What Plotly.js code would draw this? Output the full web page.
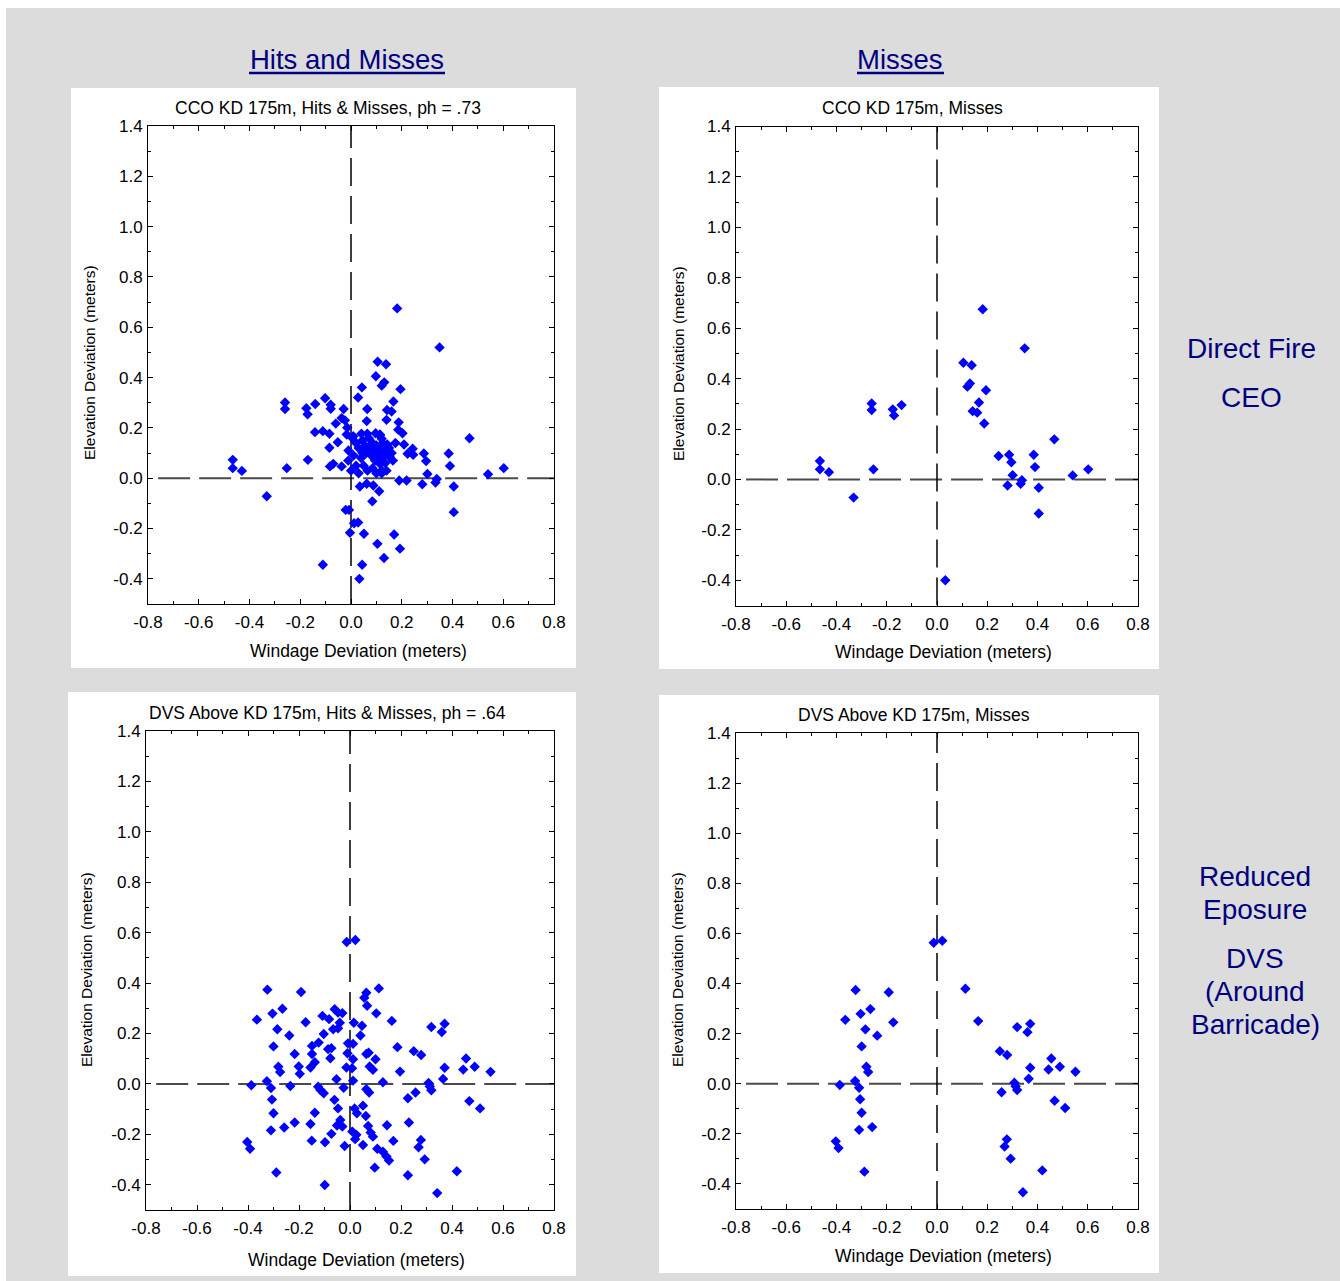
<!DOCTYPE html>
<html><head><meta charset="utf-8">
<script src="https://cdn.plot.ly/plotly-3.0.1.min.js"></script>
<style>html,body{margin:0;padding:0;background:#fff;}</style>
</head><body><div id="chart" style="width:1340px;height:1281px;"></div>
<script>
// ---------- DATA ----------
// CCO misses (shown in both CCO panels)
const ccoMissX = [0.182,0.349,0.105,0.138,0.131,0.121,0.195,0.167,0.142,0.160,0.188,0.467,0.245,0.287,0.296,0.385,0.390,0.301,0.338,0.333,0.281,0.405,0.405,0.540,0.602,0.033,-0.260,-0.260,-0.176,-0.171,-0.141,-0.466,-0.466,-0.430,-0.253,-0.332];
const ccoMissY = [0.675,0.520,0.463,0.453,0.381,0.368,0.354,0.305,0.271,0.265,0.222,0.159,0.093,0.098,0.068,0.098,0.049,0.017,-0.003,-0.017,-0.024,-0.033,-0.135,0.016,0.040,-0.400,0.301,0.275,0.278,0.254,0.295,0.073,0.040,0.029,0.040,-0.072];
// CCO hits
const ccoHitX = [0.098,0.043,0.028,-0.102,-0.080,-0.080,-0.029,0.064,0.062,0.140,-0.037,-0.024,-0.060,-0.015,-0.142,-0.111,-0.085,-0.017,0.009,0.041,0.064,0.097,0.114,
  -0.052,-0.085,-0.170,-0.083,-0.070,-0.037,-0.011,
  0.035,0.062,0.088,0.111,0.121,0.084,-0.021,-0.008,0.012,0.028,-0.004,0.051,0.104,0.170,0.130,-0.111,0.044,0.193,
  0.186,0.203,0.114,0.121,0.143,0.209,0.243,0.223,0.190,0.219,0.114,0.121,0.153,0.140,
  0.005,0.020,0.030,0.045,0.055,0.060,0.070,0.075,0.080,0.085,0.090,0.095,0.100,0.105,0.110,0.120,0.125,0.130,0.135,0.150,0.160,0.165,0.175,0.040,0.050,0.065,0.020,0.010,0.030,0.085,0.100,0.140,-0.010,0.000,0.045];
const ccoHitY = [0.405,0.361,0.321,0.318,0.292,0.276,0.275,0.275,0.227,0.232,0.239,0.230,0.217,0.201,0.183,0.187,0.177,0.174,0.167,0.177,0.177,0.179,0.174,
  0.143,0.121,0.073,0.047,0.057,0.047,0.070,
  -0.033,-0.022,-0.029,-0.052,0.020,-0.092,-0.126,-0.126,-0.179,-0.176,-0.217,-0.221,-0.261,-0.224,-0.317,-0.344,-0.344,-0.280,
  0.193,0.179,0.170,0.157,0.134,0.134,0.117,0.097,-0.009,-0.009,0.057,0.031,0.084,0.097,
  0.160,0.140,0.120,0.150,0.130,0.100,0.160,0.120,0.090,0.140,0.110,0.070,0.130,0.100,0.120,0.080,0.140,0.110,0.060,0.120,0.100,0.070,0.140,0.080,0.050,0.030,0.050,0.090,0.020,0.040,0.020,0.030,0.110,0.030,0.100];
// DVS misses
const dvsMissX = [-0.013,0.021,-0.324,-0.192,0.113,-0.265,-0.304,-0.365,-0.174,-0.285,-0.238,0.164,0.319,0.371,0.360,-0.300,0.250,0.279,0.455,0.489,0.444,0.551,0.371,0.365,-0.281,-0.274,-0.326,-0.387,-0.310,0.308,0.319,0.257,0.313,0.468,0.510,-0.306,-0.300,-0.310,-0.258,-0.403,-0.392,-0.289,0.278,0.269,0.293,0.419,0.342];
const dvsMissY = [0.563,0.571,0.374,0.365,0.379,0.298,0.279,0.255,0.245,0.217,0.192,0.250,0.226,0.239,0.206,0.149,0.130,0.115,0.101,0.068,0.057,0.048,0.064,0.020,0.068,0.047,0.011,-0.005,-0.016,0.004,-0.025,-0.034,-0.010,-0.068,-0.097,-0.062,-0.116,-0.184,-0.173,-0.230,-0.257,-0.351,-0.222,-0.251,-0.299,-0.346,-0.433];
// DVS hits
const dvsHitX = [0.064,0.056,0.067,0.103,-0.060,-0.047,-0.030,-0.108,-0.082,-0.040,-0.047,-0.066,0.015,0.047,-0.103,0.041,-0.123,-0.149,-0.008,0.012,-0.086,-0.073,-0.077,-0.217,-0.149,-0.010,0.012,0.064,0.073,0.100,-0.138,-0.201,-0.197,-0.155,-0.014,0.008,0.077,0.090,-0.053,
  -0.234,-0.125,-0.116,-0.103,-0.025,0.012,0.064,0.075,-0.061,-0.047,-0.138,0.051,0.018,0.027,0.062,-0.217,-0.155,-0.038,-0.030,-0.051,-0.073,0.009,0.025,0.020,0.071,0.081,0.090,-0.150,-0.098,-0.021,0.051,-0.099,0.097,0.107,
  0.186,0.196,0.129,0.227,0.145,0.231,0.170,0.129,0.143,0.153,0.227];
const dvsHitY = [0.362,0.342,0.310,0.280,0.296,0.283,0.281,0.270,0.257,0.243,0.221,0.217,0.243,0.231,0.198,0.192,0.164,0.151,0.161,0.159,0.138,0.142,0.102,0.119,0.119,0.122,0.098,0.119,0.124,0.098,0.086,0.069,0.040,0.065,0.065,0.062,0.069,0.056,0.019,
  -0.008,-0.011,-0.024,-0.037,-0.015,0.013,-0.021,-0.034,-0.063,-0.097,-0.114,-0.086,-0.097,-0.116,-0.127,-0.153,-0.159,-0.143,-0.169,-0.165,-0.198,-0.189,-0.202,-0.219,-0.167,-0.193,-0.209,-0.225,-0.231,-0.246,-0.242,-0.401,-0.332,-0.257,
  0.146,0.049,0.007,-0.057,-0.164,-0.153,-0.226,-0.269,-0.288,-0.304,-0.362];

const xTickVals = [-0.8,-0.6,-0.4,-0.2,0.0,0.2,0.4,0.6,0.8];
const xTickText = ['-0.8','-0.6','-0.4','-0.2','0.0','0.2','0.4','0.6','0.8'];
const yTickVals = [-0.4,-0.2,0.0,0.2,0.4,0.6,0.8,1.0,1.2,1.4];
const yTickText = ['-0.4','-0.2','0.0','0.2','0.4','0.6','0.8','1.0','1.2','1.4'];

const panelTitles = ['CCO KD 175m, Hits & Misses, ph = .73','CCO KD 175m, Misses','DVS Above KD 175m, Hits & Misses, ph = .64','DVS Above KD 175m, Misses'];
const xTitle = 'Windage Deviation (meters)';
const yTitle = 'Elevation Deviation (meters)';

// ---------- LAYOUT ----------
const W = 1340, H = 1281;
const fx = p => p / W;
const fy = p => 1 - p / H;
const AR = 'Liberation Sans, Arial, sans-serif';
const NAVY = '#00007f';

const panels = [
  {l:148, r:554, t:126, b:604, box:[71,88,576,668], tx:328, ty:108, xtx:358, xty:651, ytx:89, yty:363},
  {l:736, r:1138, t:126.5, b:605.5, box:[659,87,1159,669], tx:912, ty:108, xtx:944, xty:652, ytx:678, yty:363},
  {l:146, r:554, t:731, b:1210, box:[68,692,576,1276], tx:327, ty:713, xtx:356, xty:1260, ytx:87, yty:970},
  {l:736, r:1138, t:733, b:1209, box:[659,695,1159,1273], tx:914, ty:715, xtx:943, xty:1256, ytx:678, yty:969}
];

const seriesX = [ccoHitX.concat(ccoMissX), ccoMissX, dvsHitX.concat(dvsMissX), dvsMissX];
const seriesY = [ccoHitY.concat(ccoMissY), ccoMissY, dvsHitY.concat(dvsMissY), dvsMissY];

const data = [];
const layout = {
  width: W, height: H,
  margin: {l:0, r:0, t:0, b:0, pad:0},
  paper_bgcolor: '#dcdcdc',
  plot_bgcolor: '#ffffff',
  showlegend: false,
  shapes: [], annotations: []
};

// page white edges
layout.shapes.push({type:'rect', xref:'paper', yref:'paper', x0:0, x1:1, y0:fy(8), y1:1, fillcolor:'#ffffff', line:{width:0}, layer:'below'});
layout.shapes.push({type:'rect', xref:'paper', yref:'paper', x0:0, x1:fx(6), y0:0, y1:1, fillcolor:'#ffffff', line:{width:0}, layer:'below'});

panels.forEach((p, i) => {
  const n = i + 1;
  const xa = 'xaxis' + (n === 1 ? '' : n), ya = 'yaxis' + (n === 1 ? '' : n);
  const xr = 'x' + (n === 1 ? '' : n), yr = 'y' + (n === 1 ? '' : n);
  const common = {
    showline:true, linecolor:'#000', linewidth:1, mirror:'allticks',
    ticks:'inside', ticklen:5, tickcolor:'#000', tickwidth:1,
    showgrid:false, zeroline:false, fixedrange:true,
    tickfont:{family:AR, size:17, color:'#000'},
    tickmode:'array',
    minor:{tickmode:'linear', tick0:0, dtick:0.1, ticks:'inside', ticklen:3, tickcolor:'#000', showgrid:false}
  };
  layout[xa] = Object.assign({}, common, {domain:[fx(p.l), fx(p.r)], range:[-0.8,0.8], anchor:yr, tickvals:xTickVals, ticktext:xTickText, ticklabelstandoff:3});
  layout[ya] = Object.assign({}, common, {domain:[fy(p.b), fy(p.t)], range:[-0.5,1.4], anchor:xr, tickvals:yTickVals, ticktext:yTickText, ticklabelstandoff:1});

  // white panel box
  layout.shapes.push({type:'rect', xref:'paper', yref:'paper', x0:fx(p.box[0]), x1:fx(p.box[2]), y0:fy(p.box[3]), y1:fy(p.box[1]), fillcolor:'#ffffff', line:{width:0}, layer:'below'});
  // reference lines
  layout.shapes.push({type:'line', xref:xr, yref:yr, x0:-0.76, x1:0.8, y0:0, y1:0, line:{color:'#4a4a4a', width:2, dash:'32px,9px'}, layer:'below'});
  layout.shapes.push({type:'line', xref:xr, yref:yr, x0:0, x1:0, y0:-0.5, y1:1.4, line:{color:'#000', width:1.5, dash:'28px,10px'}, layer:'below'});

  data.push({type:'scatter', mode:'markers', x:seriesX[i], y:seriesY[i], xaxis:xr, yaxis:yr,
    marker:{symbol:'diamond', size:8, color:'#0000ff', line:{width:0}}, hoverinfo:'x+y'});

  layout.annotations.push({xref:'paper', yref:'paper', x:fx(p.tx), y:fy(p.ty), text:panelTitles[i], showarrow:false, xanchor:'center', yanchor:'middle', font:{family:AR, size:17.5, color:'#000'}});
  layout.annotations.push({xref:'paper', yref:'paper', x:fx(p.xtx), y:fy(p.xty), text:xTitle, showarrow:false, xanchor:'center', yanchor:'middle', font:{family:AR, size:17.5, color:'#000'}});
  layout.annotations.push({xref:'paper', yref:'paper', x:fx(p.ytx), y:fy(p.yty), text:yTitle, showarrow:false, textangle:-90, xanchor:'center', yanchor:'middle', font:{family:AR, size:15.5, color:'#000'}});
});

// column headers (underlined)
const headers = [{t:'Hits and Misses', x:347, y:59, x0:249, x1:445}, {t:'Misses', x:900, y:59, x0:857, x1:944}];
headers.forEach(h => {
  layout.annotations.push({xref:'paper', yref:'paper', x:fx(h.x), y:fy(h.y), text:h.t, showarrow:false, xanchor:'center', yanchor:'middle', font:{family:AR, size:27.5, color:NAVY}});
  layout.shapes.push({type:'line', xref:'paper', yref:'paper', x0:fx(h.x0), x1:fx(h.x1), y0:fy(73), y1:fy(73), line:{color:NAVY, width:2.5}});
});

// row labels
const rowLabels = [
  {t:'Direct Fire', x:1251, y:348}, {t:'CEO', x:1251, y:397},
  {t:'Reduced', x:1255, y:876}, {t:'Eposure', x:1255, y:909},
  {t:'DVS', x:1255, y:958}, {t:'(Around', x:1255, y:991}, {t:'Barricade)', x:1255, y:1024}
];
rowLabels.forEach(r => {
  layout.annotations.push({xref:'paper', yref:'paper', x:fx(r.x), y:fy(r.y), text:r.t, showarrow:false, xanchor:'center', yanchor:'middle', font:{family:AR, size:28, color:NAVY}});
});

Plotly.newPlot('chart', data, layout, {displayModeBar:false, staticPlot:true});
</script>
</body></html>
